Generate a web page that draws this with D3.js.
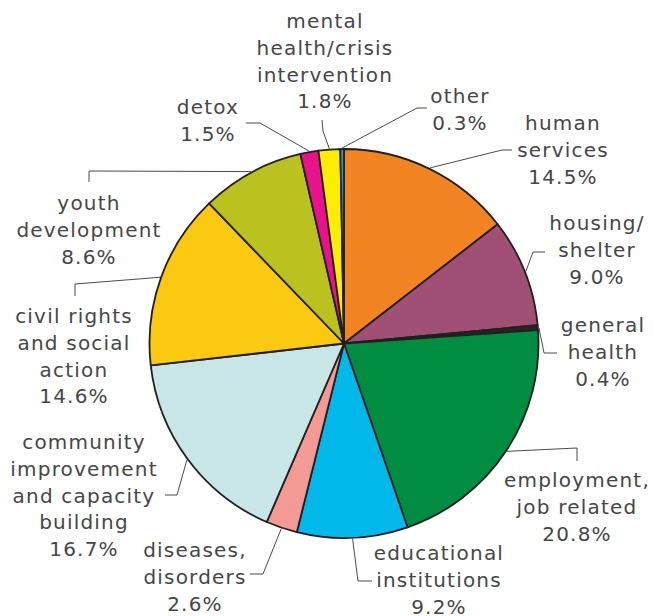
<!DOCTYPE html>
<html>
<head>
<meta charset="utf-8">
<script src="https://cdn.jsdelivr.net/npm/d3@7"></script>
<style>
  html, body { margin: 0; padding: 0; background: #fff; }
  svg { display: block; }
  .lbl { font-family: "DejaVu Sans", sans-serif; font-size: 20px; letter-spacing: 1.2px; fill: #464646; }
</style>
</head>
<body>
<svg id="chart" width="654" height="616"></svg>
<script>
// Share of grants by field, clockwise from 12 o'clock
const categories = [
  "human\nservices",
  "housing/\nshelter",
  "general\nhealth",
  "employment,\njob related",
  "educational\ninstitutions",
  "diseases,\ndisorders",
  "community\nimprovement\nand capacity\nbuilding",
  "civil rights\nand social\naction",
  "youth\ndevelopment",
  "detox",
  "mental\nhealth/crisis\nintervention",
  "other"
];
const values = [14.5, 9.0, 0.4, 20.8, 9.2, 2.6, 16.7, 14.6, 8.6, 1.5, 1.8, 0.3];
const colors = [
  "#f18421", "#a05075", "#2a2426", "#008c41", "#00b9ea", "#f29a93",
  "#c9e6e6", "#fbc90f", "#b9c21e", "#e8128c", "#ffed00", "#1aa1db"
];

// Label placement: text centre x, first-line centre y, leader elbow and leader end
const labelLayout = [
  { x: 563, y: 123, elbow: [502, 150], end: [512, 150] },
  { x: 597, y: 223, elbow: [533, 252], end: [545, 252] },
  { x: 603, y: 325, elbow: [544, 353], end: [557, 353] },
  { x: 577, y: 480, elbow: [577, 448], end: [577, 461] },
  { x: 439, y: 553, elbow: [358, 581], end: [372, 581] },
  { x: 195, y: 550, elbow: [263, 574], end: [250, 574] },
  { x: 84,  y: 442, elbow: [177, 495], end: [165, 495] },
  { x: 74,  y: 316, elbow: [75, 284],  end: [75, 296] },
  { x: 89,  y: 203, elbow: [89, 171],  end: [89, 182] },
  { x: 208, y: 107, elbow: [260, 123], end: [246, 123] },
  { x: 325, y: 21,  elbow: [323, 131], end: [322, 120] },
  { x: 460, y: 96,  elbow: [417, 108], end: [427, 108] }
];

const cx = 344, cy = 343.5, radius = 194.5, lineH = 26.8;
const fmt = d3.format(".1f");

const data = categories.map((c, i) => ({ name: c, value: values[i], color: colors[i], layout: labelLayout[i] }));

const svg = d3.select("#chart");

const pie = d3.pie().value(d => d.value).sort(null);
const arcs = pie(data);
const arc = d3.arc().innerRadius(0).outerRadius(radius);

const g = svg.append("g").attr("transform", `translate(${cx},${cy})`);

g.selectAll("path.slice")
  .data(arcs)
  .join("path")
  .attr("class", "slice")
  .attr("d", arc)
  .attr("fill", d => d.data.color)
  .attr("stroke", "#231f20")
  .attr("stroke-width", 1.8)
  .attr("stroke-linejoin", "round");

// Leader lines from each slice's outer midpoint
const line = d3.line();
svg.append("g").selectAll("path.leader")
  .data(arcs)
  .join("path")
  .attr("class", "leader")
  .attr("fill", "none")
  .attr("stroke", "#4a4a4a")
  .attr("stroke-width", 1)
  .attr("d", d => {
    const a = (d.startAngle + d.endAngle) / 2;
    const r = radius + 1;
    const start = [cx + r * Math.sin(a), cy - r * Math.cos(a)];
    return line([start, d.data.layout.elbow, d.data.layout.end]);
  });

// Text labels: category lines followed by the percentage
const labels = svg.append("g").selectAll("text.lbl")
  .data(data)
  .join("text")
  .attr("class", "lbl")
  .attr("text-anchor", "middle");

labels.each(function (d) {
  const lines = d.name.split("\n").concat([fmt(d.value) + "%"]);
  const t = d3.select(this);
  lines.forEach((s, k) => {
    t.append("tspan")
      .attr("x", d.layout.x)
      .attr("y", d.layout.y + k * lineH + 7)
      .text(s);
  });
});
</script>
</body>
</html>
